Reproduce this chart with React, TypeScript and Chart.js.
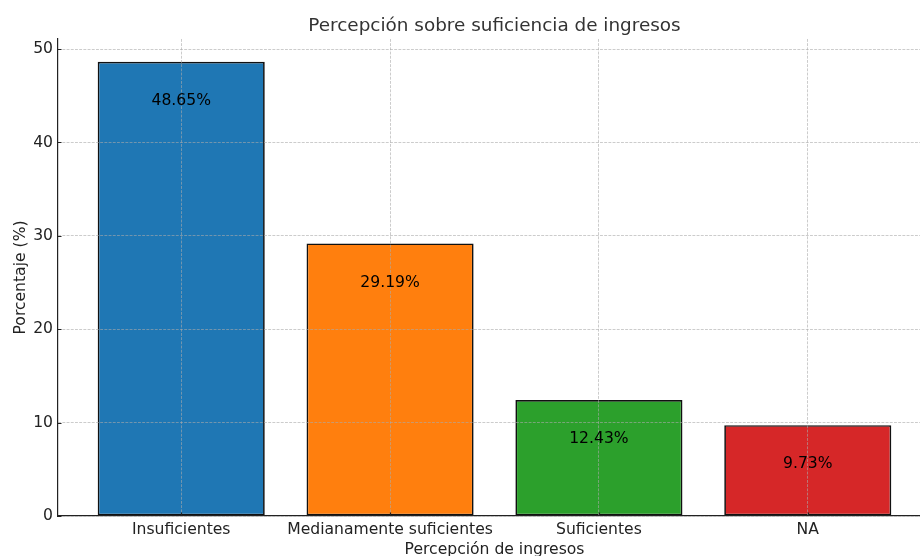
import React, { useEffect, useRef } from 'react';
import { Chart, registerables } from 'chart.js';

Chart.register(...registerables);

// ---- Data ----
const categories = ['Insuficientes', 'Medianamente suficientes', 'Suficientes', 'NA'];
const percentages = [48.65, 29.19, 12.43, 9.73];
const barColors = ['#1f77b4', '#ff7f0e', '#2ca02c', '#d62728'];
const yTickValues = [0, 10, 20, 30, 40, 50];
const xTickValues = [0, 1, 2, 3];
const chartTitle = 'Percepción sobre suficiencia de ingresos';
const xAxisTitle = 'Percepción de ingresos';
const yAxisTitle = 'Porcentaje (%)';

const W = 940;
const H = 570;
const FONT = '"DejaVu Sans", "Liberation Sans", sans-serif';
const GRID = 'rgba(170,170,170,0.6)';

const overlayPlugin = {
  id: 'overlay',
  afterDraw(chart: any) {
    const { ctx } = chart;
    const x = chart.scales.x;
    const y = chart.scales.y;
    ctx.save();
    // inward tick marks
    ctx.strokeStyle = '#222';
    ctx.lineWidth = 1.2;
    ctx.setLineDash([]);
    ctx.beginPath();
    xTickValues.forEach((v) => {
      const px = Math.round(x.getPixelForValue(v)) + 0.5;
      ctx.moveTo(px, y.bottom);
      ctx.lineTo(px, y.bottom - 3.5);
    });
    yTickValues.forEach((v) => {
      const py = Math.round(y.getPixelForValue(v)) + 0.5;
      ctx.moveTo(x.left, py);
      ctx.lineTo(x.left + 3.5, py);
    });
    ctx.stroke();
    // value labels
    ctx.font = `15.6px ${FONT}`;
    ctx.fillStyle = '#000';
    ctx.textAlign = 'center';
    ctx.textBaseline = 'middle';
    percentages.forEach((v, i) => {
      ctx.fillText(`${v.toFixed(2)}%`, x.getPixelForValue(i), y.getPixelForValue(v - 4.2));
    });
    ctx.restore();
  },
};

export default function App() {
  const ref = useRef<HTMLCanvasElement | null>(null);

  useEffect(() => {
    if (!ref.current) return;
    const chart = new Chart(ref.current, {
      type: 'bar',
      data: {
        datasets: [
          {
            data: percentages.map((v, i) => ({ x: i, y: v })),
            backgroundColor: barColors,
            borderColor: '#111',
            borderWidth: 1.7,
            borderSkipped: false,
            barPercentage: 0.8,
            categoryPercentage: 1,
          },
        ],
      },
      options: {
        animation: false,
        responsive: false,
        maintainAspectRatio: false,
        layout: { padding: { left: 0, right: 9, top: 0, bottom: 0 } },
        plugins: {
          legend: { display: false },
          tooltip: { enabled: false },
          title: {
            display: true,
            text: chartTitle,
            fullSize: false,
            color: '#333',
            font: { family: FONT, size: 18.4, weight: 'normal' },
            padding: { top: 14.9, bottom: 2.0 },
          },
        },
        scales: {
          x: {
            type: 'linear',
            position: 'bottom',
            min: -0.59,
            max: 3.59,
            offset: false,
            afterBuildTicks: (scale: any) => {
              scale.ticks = xTickValues.map((v) => ({ value: v }));
            },
            afterFit: (scale: any) => {
              scale.height = H - 516;
            },
            ticks: {
              autoSkip: false,
              maxRotation: 0,
              minRotation: 0,
              padding: 4.5,
              color: '#222',
              font: { family: FONT, size: 15.6 },
              callback: (v: any) => categories[Math.round(Number(v))] ?? '',
            },
            grid: {
              display: true,
              offset: false,
              drawTicks: false,
              color: GRID,
              lineWidth: 1,
              z: 1,
            },
            border: { display: true, color: '#222', width: 1.2, dash: [2.9, 1.3], z: 1 },
            title: {
              display: true,
              text: xAxisTitle,
              color: '#222',
              font: { family: FONT, size: 15.6 },
              padding: { top: 0, bottom: 10.6 },
            },
          },
          y: {
            type: 'linear',
            position: 'left',
            min: 0,
            max: 51.0825,
            afterBuildTicks: (scale: any) => {
              scale.ticks = yTickValues.map((v) => ({ value: v }));
            },
            afterFit: (scale: any) => {
              scale.width = 58;
            },
            ticks: {
              padding: 5,
              color: '#222',
              font: { family: FONT, size: 15.6 },
            },
            grid: {
              display: true,
              drawTicks: false,
              color: GRID,
              lineWidth: 1,
              z: 1,
            },
            border: { display: true, color: '#222', width: 1.2, dash: [2.9, 1.3], z: 1 },
            title: {
              display: true,
              text: yAxisTitle,
              color: '#222',
              font: { family: FONT, size: 15.6 },
              padding: { top: 11.3, bottom: 0 },
            },
          },
        },
      },
      plugins: [overlayPlugin],
    } as any);
    return () => chart.destroy();
  }, []);

  return (
    <div style={{ position: 'fixed', left: 0, top: 0, width: W, height: H, background: '#fff' }}>
      <canvas ref={ref} width={W} height={H} style={{ display: 'block', width: W, height: H }} />
    </div>
  );
}
